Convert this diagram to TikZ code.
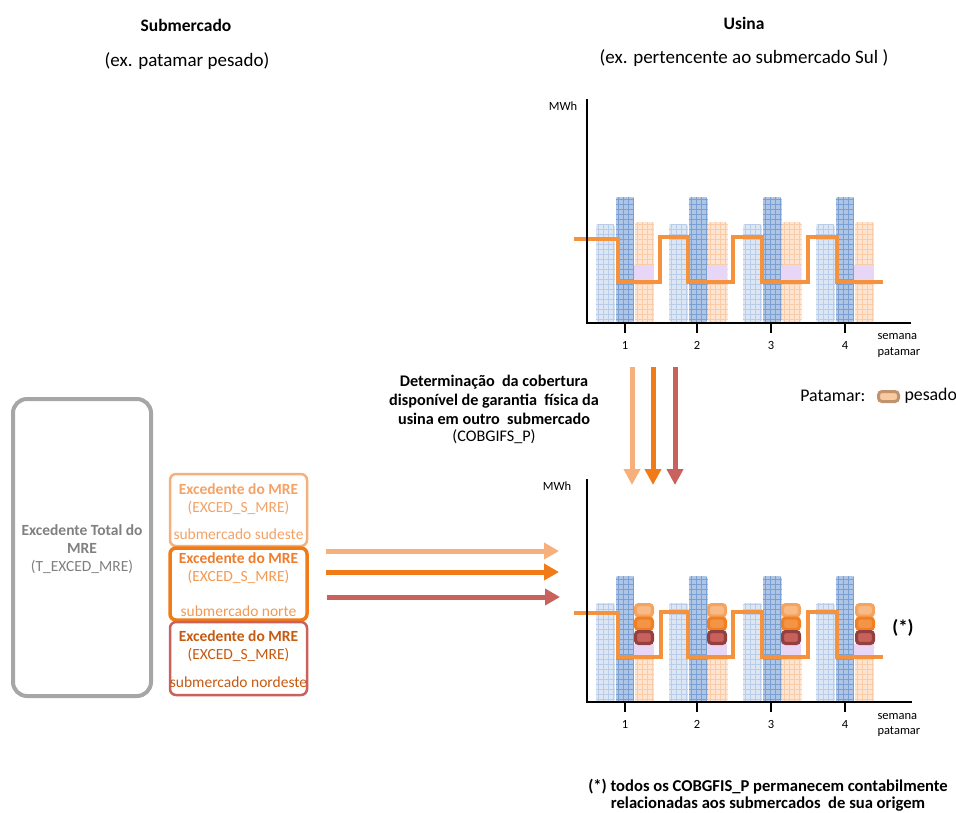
\documentclass[tikz,border=0pt]{standalone}
\usepackage{fontspec}
\setmainfont{Carlito}
\usetikzlibrary{arrows.meta}
\definecolor{lbfill}{HTML}{DDE6F3}
\definecolor{lbline}{HTML}{B9CCE9}
\definecolor{dbfill}{HTML}{AFC5E5}
\definecolor{dbline}{HTML}{7A9FD2}
\definecolor{obfill}{HTML}{FDE5D2}
\definecolor{obline}{HTML}{F9CBA6}
\definecolor{purp}{HTML}{E8D6F7}
\definecolor{oline}{HTML}{F5923E}
\definecolor{grayb}{HTML}{A6A6A6}
\definecolor{grayt}{HTML}{808080}
\definecolor{c1}{HTML}{F6B07C}
\definecolor{c1t}{HTML}{F4A266}
\definecolor{c2}{HTML}{F07B17}
\definecolor{c2t}{HTML}{EE7D2E}
\definecolor{c2l}{HTML}{F39A52}
\definecolor{c3}{HTML}{C9615D}
\definecolor{c3t}{HTML}{C55A11}
\definecolor{sq1o}{HTML}{F5A45F}
\definecolor{sq1i}{HTML}{F8BB88}
\definecolor{sq2o}{HTML}{F37F20}
\definecolor{sq2i}{HTML}{F29547}
\definecolor{sq3o}{HTML}{94403E}
\definecolor{sq3i}{HTML}{C8605B}
\definecolor{legf}{HTML}{F9C9A0}
\definecolor{legd}{HTML}{C1946E}
\newcommand{\gbar}[6]{%
\begin{scope}
\clip[rounded corners=2.5pt] ({#1},{#2}) rectangle ({#3},{#4});
\fill[#5] ({#1},{#2}) rectangle ({#3},{#4});
\foreach \k in {2.5,7.5,...,22.5} \draw[#6,line width=0.6pt] ({#1+\k},{#2}) -- ({#1+\k},{#4});
\foreach \k in {2.5,7.5,...,132.5} \draw[#6,line width=0.6pt] ({#1},{#4-\k}) -- ({#3},{#4-\k});
\end{scope}}
\newcommand{\sqbox}[5]{%
\filldraw[fill=#4,draw=#5,line width=3.2pt,rounded corners=3pt] ({#1+1.6},{#2+1.6}) rectangle ({#1+20-1.6},{#3-1.6});}
\begin{document}
\begin{tikzpicture}[x=1pt,y=-1pt,
  title/.style={font=\fontsize{17.5}{20}\selectfont\bfseries},
  sub/.style={font=\fontsize{19}{22}\selectfont},
  btxt/.style={font=\fontsize{15.5}{18}\selectfont\bfseries},
  ntxt/.style={font=\fontsize{15.5}{18}\selectfont},
  small/.style={font=\fontsize{12.5}{14}\selectfont},
  axisl/.style={line width=1.6pt,black},
  tick/.style={line width=1.8pt,black},
  ol/.style={oline,line width=4pt},
  harr/.style={line width=5pt,-{Triangle[width=16pt,length=15pt]}},
  varr/.style={line width=5pt,-{Triangle[width=16pt,length=16pt]}},
  ebox/.style={rounded corners=6pt,minimum width=137pt,minimum height=72pt,inner sep=0pt}]
\useasboundingbox (0,0) rectangle (956,812);

% headers
\node[title] (t1) at (186,25) {Submercado};
\node[sub] (t2) at (187,61) {(ex. patamar pesado)};
\node[title] (t3) at (744,23) {Usina};
\node[sub] (t4) at (744,58) {(ex. pertencente ao submercado Sul )};

% ---------- top chart ----------
\foreach \g in {596,669,743,816} {
  \gbar{\g}{224}{\g+19}{322}{lbfill}{lbline}
  \gbar{\g+19.5}{197}{\g+38.5}{322}{dbfill}{dbline}
  \gbar{\g+39}{222}{\g+58.5}{322}{obfill}{obline}
  \fill[purp] ({\g+38},265) rectangle ({\g+58},280);
}
\draw[ol] (574,239) -- (618,239) -- (618,282) -- (660,282) -- (660,237) -- (688,237) -- (688,282) -- (733,282) -- (733,237) -- (762,237) -- (762,282) -- (808,282) -- (808,237) -- (837,237) -- (837,282) -- (883,282);
\coordinate (ya1) at (587,99);
\coordinate (o1) at (587,323);
\coordinate (xa1) at (911,323);
\draw[axisl] (ya1) -- (o1) -- (xa1);
\foreach \x/\l in {625/1,697/2,771/3,845/4} {
  \draw[tick] (\x,323) -- (\x,333);
  \node[small] (lt\l) at (\x,345) {\l};
}
\node[small] (mwh1) at (563,106) {MWh};
\node[small,anchor=west] (sem1) at (874,337) {semana};
\node[small,anchor=west] (pat1) at (874,353) {patamar};

% ---------- bottom chart ----------
\foreach \g in {596,669,743,816} {
  \gbar{\g}{603}{\g+19}{702}{lbfill}{lbline}
  \gbar{\g+19.5}{576}{\g+38.5}{702}{dbfill}{dbline}
  \gbar{\g+39}{657}{\g+58.5}{702}{obfill}{obline}
  \fill[purp] ({\g+38},644) rectangle ({\g+58},657);
}
\draw[ol] (574,613) -- (618,613) -- (618,657) -- (661,657) -- (661,612) -- (688,612) -- (688,657) -- (733,657) -- (733,612) -- (762,612) -- (762,657) -- (808,657) -- (808,612) -- (837,612) -- (837,657) -- (883,657);
\foreach \g in {634,707,781,855} {
  \sqbox{\g}{603}{617.5}{sq1i}{sq1o}
  \sqbox{\g}{616.5}{631}{sq2i}{sq2o}
  \sqbox{\g}{630}{645}{sq3i}{sq3o}
}
\coordinate (ya2) at (587,479);
\coordinate (o2) at (587,702);
\coordinate (xa2) at (912,702);
\draw[axisl] (ya2) -- (o2) -- (xa2);
\foreach \x/\l in {625/1,697/2,771/3,845/4} {
  \draw[tick] (\x,702) -- (\x,712);
  \node[small] (lb\l) at (\x,724) {\l};
}
\node[small] (mwh2) at (557,486) {MWh};
\node[small,anchor=west] (sem2) at (874,716) {semana};
\node[small,anchor=west] (pat2) at (874,732) {patamar};
\node[font=\fontsize{19}{22}\selectfont\bfseries] (ast) at (903,628) {(*)};

% ---------- left boxes ----------
\node[draw=grayb,line width=4pt,rounded corners=14pt,minimum width=138pt,minimum height=297pt] (tot) at (82,547.5) {};
\node[btxt,text=grayt] (tot1) at (82,530) {Excedente Total do};
\node[btxt,text=grayt] (tot2) at (82,548) {MRE};
\node[ntxt,text=grayt] (tot3) at (82,567) {(T\_EXCED\_MRE)};

\node[ebox,draw=c1,line width=2.5pt] (b1) at (238.5,510) {};
\node[btxt,text=c1t] (b1a) at (238.5,489) {Excedente do MRE};
\node[ntxt,text=c1t] (b1b) at (238.5,508) {(EXCED\_S\_MRE)};
\node[ntxt,text=c1t] (b1c) at (238.5,534) {submercado sudeste};

\node[ebox,draw=c2,line width=3.5pt] (b2) at (238.5,584) {};
\node[btxt,text=c2t] (b2a) at (238.5,558) {Excedente do MRE};
\node[ntxt,text=c2l] (b2b) at (238.5,577) {(EXCED\_S\_MRE)};
\node[ntxt,text=c2l] (b2c) at (238.5,611) {submercado norte};

\node[ebox,draw=c3,line width=2.5pt,minimum height=73pt] (b3) at (238.5,658.5) {};
\node[btxt,text=c3t] (b3a) at (238.5,636) {Excedente do MRE};
\node[ntxt,text=c3t] (b3b) at (238.5,655) {(EXCED\_S\_MRE)};
\node[ntxt,text=c3t] (b3c) at (238.5,682) {submercado nordeste};

% horizontal arrows
\coordinate (h1s) at (326,551); \coordinate (h1e) at (559,551);
\coordinate (h2s) at (326,572); \coordinate (h2e) at (559,572);
\coordinate (h3s) at (327,597); \coordinate (h3e) at (560,597);
\draw[harr,c1] (h1s) -- (h1e);
\draw[harr,c2] (h2s) -- (h2e);
\draw[harr,c3] (h3s) -- (h3e);

% vertical arrows
\coordinate (v1s) at (632,367); \coordinate (v1e) at (632,485);
\coordinate (v2s) at (653,367); \coordinate (v2e) at (653,485);
\coordinate (v3s) at (675,367); \coordinate (v3e) at (675,485);
\draw[varr,c1] (v1s) -- (v1e);
\draw[varr,c2] (v2s) -- (v2e);
\draw[varr,c3] (v3s) -- (v3e);

% description
\node[font=\fontsize{16.2}{19}\selectfont\bfseries,align=center] (desc) at (494,400) {Determinação \ da cobertura\\disponível de garantia \ física da\\usina em outro \ submercado};
\node[font=\fontsize{16.2}{19}\selectfont] (desc2) at (494,437) {(COBGIFS\_P)};

% legend
\node[font=\fontsize{17.8}{20}\selectfont,anchor=east] (patl) at (869,396) {Patamar:};
\filldraw[fill=legf,draw=legd,line width=3pt,rounded corners=3.5pt] (878.5,391.5) rectangle (898.5,401.5);
\node[font=\fontsize{17.8}{20}\selectfont,anchor=west] (pes) at (901,396) {pesado};

% footnote
\node[font=\fontsize{16.6}{19}\selectfont\bfseries] (fn1) at (768,787) {(*) todos os COBGFIS\_P permanecem contabilmente};
\node[font=\fontsize{16.6}{19}\selectfont\bfseries] (fn2) at (768,804) {relacionadas aos submercados \ de sua origem};
\end{tikzpicture}
\end{document}
